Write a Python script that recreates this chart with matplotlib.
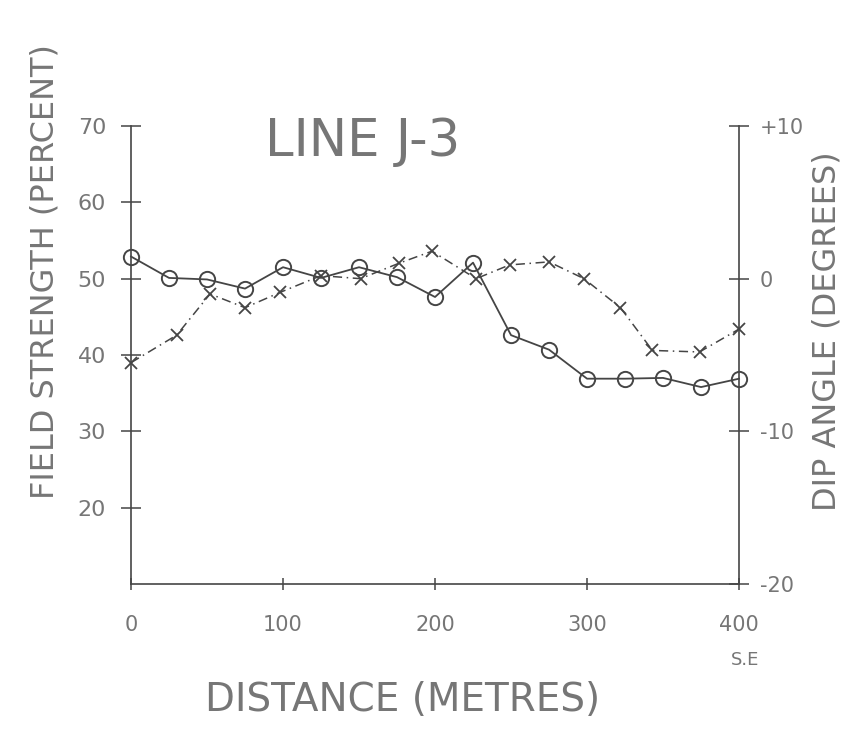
import matplotlib
matplotlib.use('Agg')
import matplotlib.pyplot as plt

# Field strength (percent) readings, open circles, solid line
dist_fs = [0, 25, 50, 75, 100, 125, 150, 175, 200, 225, 250, 275, 300, 325, 350, 375, 400]
field_strength = [52.9, 50.1, 49.9, 48.7, 51.5, 50.1, 51.5, 50.2, 47.6, 52.1,
                  42.6, 40.7, 36.9, 36.9, 37.0, 35.8, 36.9]

# Dip angle (degrees) readings, crosses, dash-dot line
dist_dip = [0, 30, 52, 75, 98, 125, 151, 176, 198, 227, 249, 275, 298, 322, 343, 374, 400]
dip_angle = [-5.5, -3.7, -1.0, -1.9, -0.9, 0.2, 0.0, 1.0, 1.8, 0.0,
             0.9, 1.1, 0.0, -1.9, -4.7, -4.8, -3.3]

x_ticks = [0, 100, 200, 300, 400]
x_labels = ['0', '100', '200', '300', '400']
left_ticks = [20, 30, 40, 50, 60, 70]
right_ticks = [-20, -10, 0, 10]
right_labels = ['-20', '-10', '0', '+10']

ink = '#454545'
pencil = '#767676'

fig = plt.figure(figsize=(8.66, 7.39), dpi=100)
ax = fig.add_axes([0.1513, 0.2097, 0.7021, 0.6198])
ax2 = ax.twinx()

ax.set_xlim(0, 400)
ax.set_ylim(10, 70)
ax2.set_ylim(-20, 10)

ax.plot(dist_fs, field_strength, color=ink, lw=1.3, marker='o', ms=11,
        mfc='none', mec=ink, mew=1.4, clip_on=False)
ax2.plot(dist_dip, dip_angle, color=ink, lw=1.1, ls=(0, (6, 3, 1, 3)),
         marker='x', ms=8, mew=1.3, clip_on=False)

for a in (ax, ax2):
    for s in a.spines.values():
        s.set_color(ink)
        s.set_linewidth(1.2)
    a.spines['top'].set_visible(False)
ax.spines['right'].set_visible(False)
ax2.spines['left'].set_visible(False)
ax2.spines['bottom'].set_visible(False)

ax.set_xticks(x_ticks)
ax.set_xticklabels(x_labels)
ax.set_yticks(left_ticks)
ax.set_yticklabels([str(t) for t in left_ticks])
ax2.set_yticks(right_ticks)
ax2.set_yticklabels(right_labels)

ax.tick_params(axis='x', direction='inout', length=9, width=1.1, color=ink,
               labelsize=15, labelcolor=pencil, pad=18)
ax.tick_params(axis='y', direction='inout', length=14, width=1.1, color=ink,
               labelsize=16, labelcolor=pencil, pad=11)
ax2.tick_params(axis='y', direction='inout', length=14, width=1.1, color=ink,
                labelsize=15, labelcolor=pencil, pad=8)

ax.text(404, 0, 'S.E', ha='center', va='center', fontsize=13, color=pencil)

fig.text(0.419, 0.808, 'LINE J-3', fontsize=37, color=pencil, ha='center', va='center')
fig.text(0.052, 0.632, 'FIELD STRENGTH (PERCENT)', rotation=90, fontsize=23,
         color=pencil, ha='center', va='center')
fig.text(0.955, 0.552, 'DIP ANGLE (DEGREES)', rotation=90, fontsize=23,
         color=pencil, ha='center', va='center')
fig.text(0.465, 0.053, 'DISTANCE (METRES)', fontsize=28, color=pencil,
         ha='center', va='center')

fig.savefig('out.png', dpi=100)
